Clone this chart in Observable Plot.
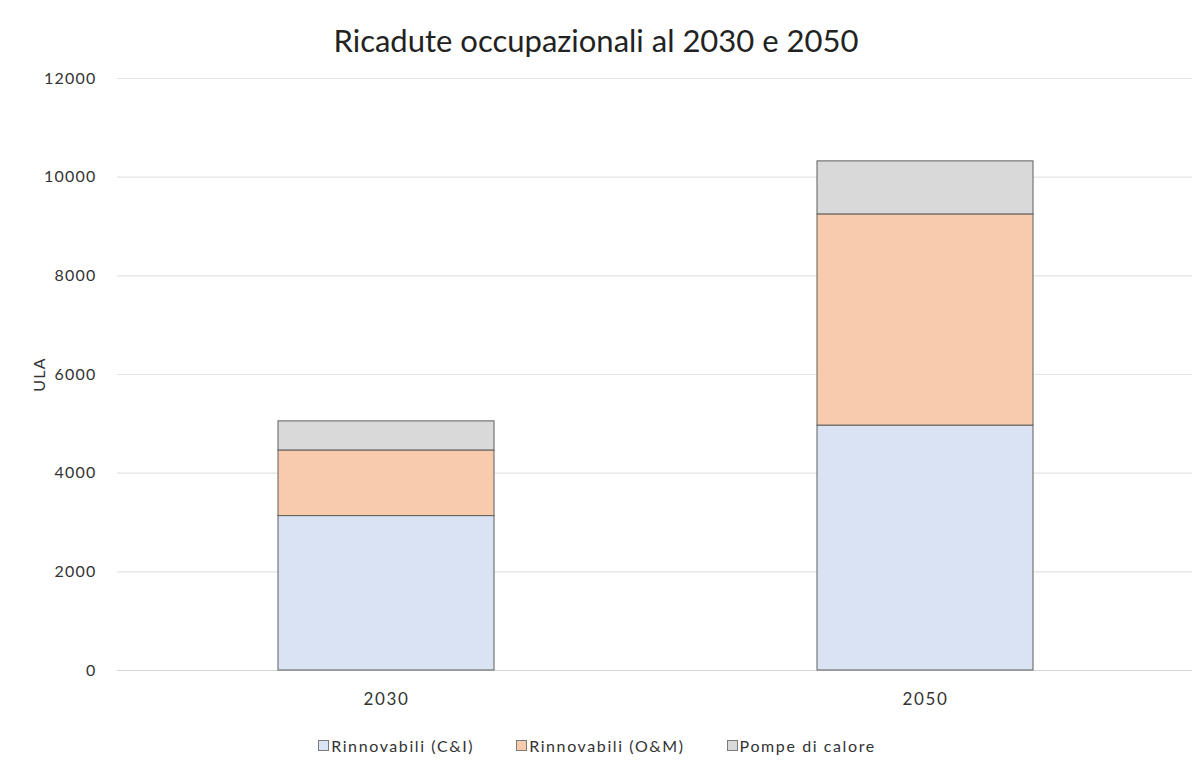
<!DOCTYPE html>
<html><head><meta charset="utf-8">
<script src="https://cdn.jsdelivr.net/npm/d3@7"></script>
<script src="https://cdn.jsdelivr.net/npm/@observablehq/plot@0.6"></script>
<style>
body{margin:0;background:#fff;font-family:Lato,"Open Sans",sans-serif;width:1192px;height:761px;overflow:hidden;}
#title{height:40px;padding-top:20px;line-height:40px;text-align:center;font-size:31px;color:#222;}
#chart{height:670px;}
#legend{height:31px;display:flex;justify-content:center;align-items:center;gap:42px;font-size:16px;letter-spacing:1.6px;color:#333;padding-left:2px;}
.item{display:flex;align-items:center;gap:2px;}
.sw{width:11px;height:11px;border:1px solid #7a7a7a;box-sizing:border-box;display:inline-block;}
svg .xax text{font-size:17px;letter-spacing:1.6px;}
</style></head><body>
<div id="title">Ricadute occupazionali al 2030 e 2050</div>
<div id="chart"></div>
<div id="legend"></div>
<script>
const years = ["2030", "2050"];
const seriesNames = ["Rinnovabili (C&I)", "Rinnovabili (O&M)", "Pompe di calore"];
const ciValues = [3130, 4965];
const omValues = [1330, 4280];
const hpValues = [590, 1075];
const seriesColors = ["#dae3f3", "#f8cbad", "#d9d9d9"];
const yTicks = [0, 2000, 4000, 6000, 8000, 10000, 12000];

const valuesBySeries = [ciValues, omValues, hpValues];
const data = [];
seriesNames.forEach((s, i) => {
  years.forEach((y, j) => data.push({year: y, series: s, value: valuesBySeries[i][j]}));
});

const chart = Plot.plot({
  width: 1192,
  height: 670,
  marginTop: 18,
  marginBottom: 60,
  marginLeft: 117,
  marginRight: 0,
  style: {fontSize: "16px", fontFamily: "Lato, 'Open Sans', sans-serif", color: "#333", background: "#fff", letterSpacing: "1.2px"},
  x: {domain: years, range: [116, 1195], paddingInner: 0.6, paddingOuter: 0.3},
  y: {domain: [0, 12000]},
  color: {domain: seriesNames, range: seriesColors},
  marks: [
    Plot.ruleY(yTicks.filter(d => d > 0), {stroke: "#e3e3e8", strokeWidth: 1.2}),
    Plot.ruleY([0], {stroke: "#d4d4d4", strokeWidth: 1.2}),
    Plot.barY(data, {x: "year", y: "value", fill: "series", order: seriesNames, stroke: "#5e5e5e", strokeWidth: 1}),
    Plot.axisY({ticks: yTicks, tickFormat: d => String(d), tickSize: 0, tickPadding: 21, label: "ULA", labelAnchor: "center", labelArrow: "none", labelOffset: 84}),
    Plot.axisX({tickSize: 0, tickPadding: 22, label: null, className: "xax"})
  ]
});
document.getElementById("chart").appendChild(chart);

const legend = document.getElementById("legend");
seriesNames.forEach((s, i) => {
  const it = document.createElement("div");
  it.className = "item";
  const sw = document.createElement("span");
  sw.className = "sw";
  sw.style.background = seriesColors[i];
  const t = document.createElement("span");
  t.textContent = s;
  it.appendChild(sw); it.appendChild(t);
  legend.appendChild(it);
});
</script>
</body></html>
